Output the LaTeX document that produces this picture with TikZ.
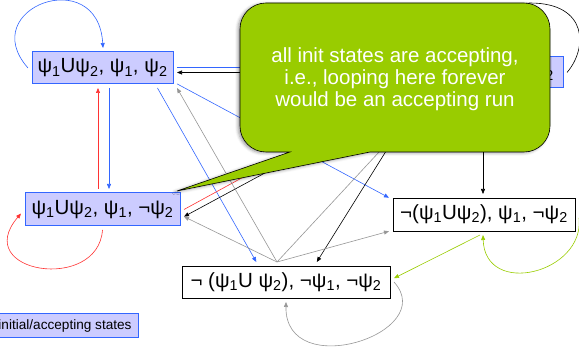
\documentclass[tikz,border=0pt]{standalone}
\usepackage{fontspec}
\setmainfont{Liberation Sans}
\usetikzlibrary{arrows.meta,shadows.blur}
\newcommand\ps[1]{ψ\textsubscript{#1}}
\begin{document}
\begin{tikzpicture}[x=1pt,y=1pt,
  box/.style={inner sep=0pt, outer sep=4pt, font=\fontsize{20.5}{22}\selectfont},
  initstate/.style={box, draw=boxBlue, line width=1pt, fill=boxFill},
  otherstate/.style={box, draw=black, line width=0.8pt, fill=white},
  conn/.style={line width=0.6pt, -{Triangle[length=5pt,width=4pt]}}]
\definecolor{boxBlue}{RGB}{51,102,255}
\definecolor{boxFill}{RGB}{204,204,255}
\definecolor{lineBlue}{RGB}{51,102,255}
\definecolor{lineRed}{RGB}{255,51,51}
\definecolor{lineGray}{RGB}{150,150,150}
\definecolor{lineGreen}{RGB}{153,204,0}
\definecolor{noteGreen}{RGB}{153,204,0}
\useasboundingbox (0,0) rectangle (579,348);

\node[initstate, minimum width=141pt, minimum height=32pt] (A) at (102.5,280) {\ps1U\ps2, \ps1, \ps2};
\node[initstate, minimum width=160pt, minimum height=31pt] (B) at (483,275.5) {\ps1U\ps2, ¬\ps1, \ps2};
\node[initstate, minimum width=155pt, minimum height=33pt] (C) at (102.5,138.5) {\ps1U\ps2, \ps1, ¬\ps2};
\node[otherstate, minimum width=182pt, minimum height=33pt] (D) at (484,133.5) {¬(\ps1U\ps2), \ps1, ¬\ps2};
\node[otherstate, minimum width=208pt, minimum height=32pt] (E) at (286,66) {¬ (\ps1U \ps2), ¬\ps1, ¬\ps2};
\node[initstate, minimum width=146pt, minimum height=24pt, font=\fontsize{13.6}{16}\selectfont] (legend) at (65,22) {initial/accepting states};

\coordinate (ab) at ([yshift=1pt]A.east);
\coordinate (ac) at ([xshift=6.5pt]A.south);
\coordinate (ca) at ([xshift=-4.5pt]C.north);
\coordinate (Etop) at ([xshift=-9pt]E.north);

\draw[conn, lineBlue] (A.west) .. controls (-25,340) and (98,385) .. ([xshift=0.5pt]A.north);
\draw[conn, lineBlue] (ab) -- (ab -| B.west);
\draw[conn, lineBlue] (A.-12) -- (D.170);
\draw[conn, lineBlue] (A.-20) -- (E.146);
\draw[conn, lineBlue] (ac) -- (ac |- C.north);

\draw[conn, lineRed] (ca) -- (ca |- A.south);
\draw[conn, lineRed] (C.south) .. controls (98,55) and (-30,75) .. ([yshift=-4pt]C.west);
\draw[conn, lineRed] (C.east) -- (B.south west);

\draw[conn] (B.west) -- (B.west -| A.east);
\draw[conn] (B.196) -- (C.-5);
\draw[conn] (B.198) -- (E.33);
\draw[conn] (B.south) -- (B.south |- D.north);
\draw[conn] (B.east) .. controls (588,300) and (588,345) .. (530,345) .. controls (505,345) and (505,320) .. ([xshift=22pt]B.north);

\draw[conn, lineGray] (Etop) -- (C.-5);
\draw[conn, lineGray] (Etop) -- (A.south east);
\draw[conn, lineGray] (Etop) -- (D.190);
\draw[conn, lineGray] (Etop) -- (B.202);
\draw[conn, lineGray] (E.east) .. controls (440,15) and (285,-35) .. (E.south);

\draw[conn, lineGreen] ([xshift=-4pt]D.south) -- (E.2);
\draw[conn, lineGreen] (D.-2) .. controls (585,75) and (485,50) .. ([xshift=-1pt]D.south);

\path[draw=black, line width=0.6pt, fill=noteGreen, blur shadow={shadow xshift=-2pt, shadow yshift=-1pt, shadow blur radius=3pt}]
  (240,270) -- (240,319) arc[start angle=180, end angle=90, radius=26] -- (524,345)
  arc[start angle=90, end angle=0, radius=26] -- (550,222) arc[start angle=0, end angle=-90, radius=26]
  -- (370,196) -- (177,157) -- (290,196) -- (266,196) arc[start angle=270, end angle=180, radius=26] -- cycle;
\node[text=white, align=center, font=\fontsize{20.5}{22}\selectfont] (note) at (395,268.5) {all init states are accepting,\\i.e., looping here forever\\would be an accepting run};
\end{tikzpicture}
\end{document}
